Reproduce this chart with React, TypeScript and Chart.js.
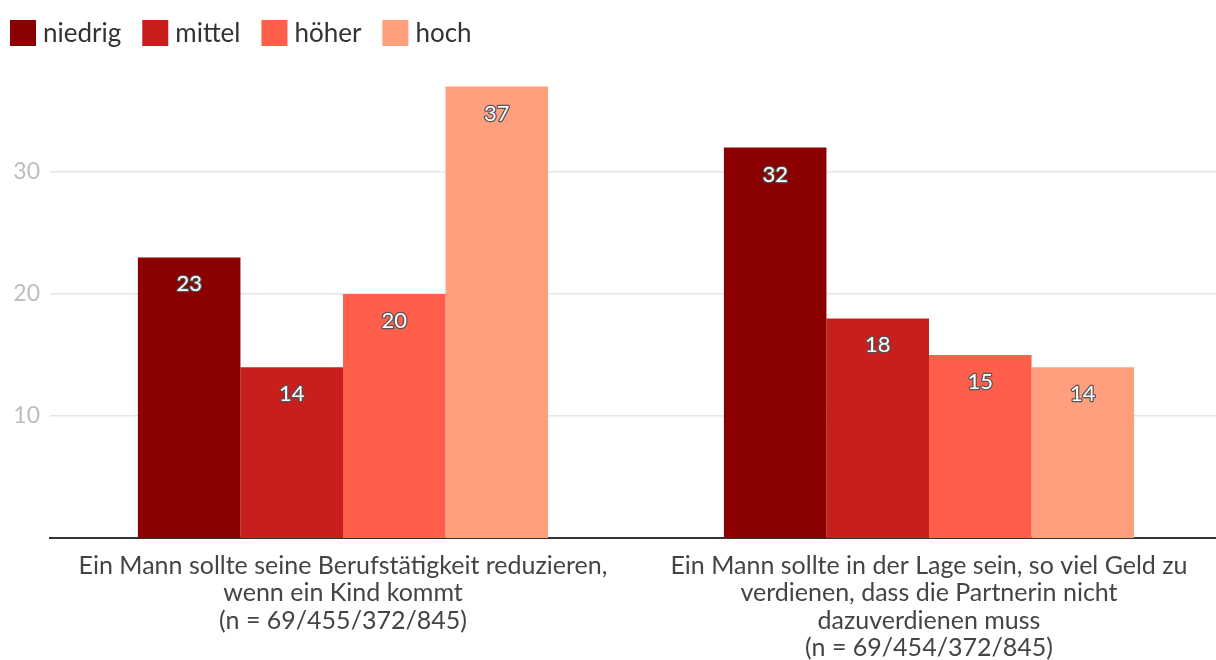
import React, { useEffect, useRef } from 'react';
import { Chart, registerables } from 'chart.js';

Chart.register(...registerables);

const categories: string[][] = [
  ['Ein Mann sollte seine Berufstätigkeit reduzieren,', 'wenn ein Kind kommt', '(n = 69/455/372/845)'],
  ['Ein Mann sollte in der Lage sein, so viel Geld zu', 'verdienen, dass die Partnerin nicht', 'dazuverdienen muss', '(n = 69/454/372/845)'],
];
const seriesNames = ['niedrig', 'mittel', 'höher', 'hoch'];
const niedrig = [23, 32];
const mittel = [14, 18];
const hoeher = [20, 15];
const hoch = [37, 14];
const seriesColors = ['#8B0000', '#C81E1E', '#FF5F4A', '#FF9F7E'];
const yTicks = [10, 20, 30];

const FONT = 'Lato, "Open Sans", sans-serif';

const valueLabels = {
  id: 'valueLabels',
  afterDatasetsDraw(chart: any) {
    const ctx = chart.ctx;
    ctx.save();
    ctx.font = `22px ${FONT}`;
    ctx.textAlign = 'center';
    ctx.textBaseline = 'middle';
    ctx.lineJoin = 'round';
    chart.data.datasets.forEach((ds: any, i: number) => {
      const meta = chart.getDatasetMeta(i);
      meta.data.forEach((el: any, j: number) => {
        const txt = String(ds.data[j]);
        const y = el.y + 27;
        ctx.lineWidth = 2.5;
        ctx.strokeStyle = '#555555';
        ctx.strokeText(txt, el.x, y);
        ctx.fillStyle = '#ffffff';
        ctx.fillText(txt, el.x, y);
      });
    });
    ctx.restore();
  },
};

const topLegend = {
  id: 'topLegend',
  afterDraw(chart: any) {
    const ctx = chart.ctx;
    ctx.save();
    ctx.font = `26px ${FONT}`;
    ctx.textAlign = 'left';
    ctx.textBaseline = 'middle';
    let x = 10;
    const y = 20;
    const box = 26;
    chart.data.datasets.forEach((ds: any) => {
      ctx.fillStyle = ds.backgroundColor;
      ctx.fillRect(x, y, box, box);
      const tx = x + box + 7;
      ctx.fillStyle = '#333';
      ctx.fillText(ds.label, tx, y + box / 2 + 1);
      x = tx + ctx.measureText(ds.label).width + 21;
    });
    ctx.restore();
  },
};

export default function App() {
  const ref = useRef<HTMLCanvasElement>(null);
  useEffect(() => {
    if (!ref.current) return;
    const values = [niedrig, mittel, hoeher, hoch];
    const chart = new Chart(ref.current, {
      type: 'bar',
      data: {
        labels: categories,
        datasets: seriesNames.map((name, i) => ({
          label: name,
          data: values[i],
          backgroundColor: seriesColors[i],
          borderWidth: 0,
          barPercentage: 1,
          categoryPercentage: 0.7,
        })),
      },
      options: {
        animation: false,
        responsive: true,
        maintainAspectRatio: false,
        layout: { padding: { top: 50, right: 0, left: 0, bottom: 0 } },
        plugins: {
          legend: { display: false },
          tooltip: { enabled: false },
        },
        scales: {
          x: {
            grid: { display: false, drawTicks: false },
            border: { display: true, color: '#333', width: 2 },
            ticks: {
              color: '#444',
              font: { family: FONT, size: 25, lineHeight: 1.1 },
              padding: 14,
              maxRotation: 0,
              autoSkip: false,
            },
            afterFit: (scale: any) => {
              scale.height = 122;
            },
          },
          y: {
            min: 0,
            max: 40,
            grid: { color: '#e6e6e6', lineWidth: 1.5, drawTicks: false },
            border: { display: false },
            afterBuildTicks: (scale: any) => {
              scale.ticks = yTicks.map((v) => ({ value: v }));
            },
            ticks: {
              color: '#bdbdbd',
              font: { family: FONT, size: 23 },
              padding: 10,
            },
            afterFit: (scale: any) => {
              scale.width = 50;
            },
          },
        },
      },
      plugins: [valueLabels, topLegend],
    } as any);
    return () => chart.destroy();
  }, []);
  return (
    <div style={{ position: 'absolute', left: 0, top: 0, width: 1216, height: 660, overflow: 'hidden', background: '#fff' }}>
      <div style={{ position: 'relative', width: 1222, height: 660 }}>
        <canvas ref={ref} />
      </div>
    </div>
  );
}
